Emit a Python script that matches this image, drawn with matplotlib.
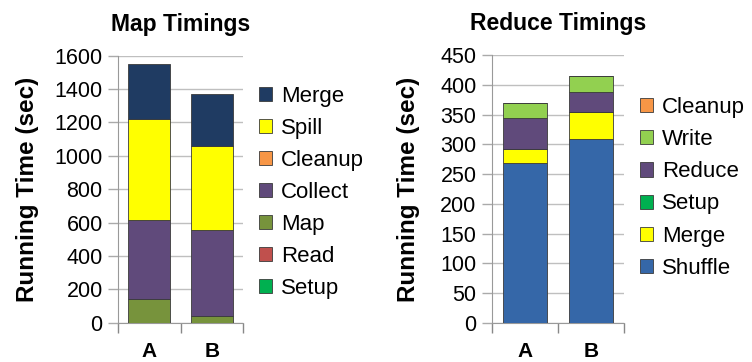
import matplotlib
matplotlib.use("Agg")
import matplotlib.pyplot as plt
import numpy as np

plt.rcParams['font.family'] = ['Liberation Sans', 'DejaVu Sans']

categories = ["A", "B"]

# Map timings (stack order bottom -> top)
map_phases = ["Setup", "Read", "Map", "Collect", "Cleanup", "Spill", "Merge"]
map_setup = [0, 0]
map_read = [0, 0]
map_map = [140, 42]
map_collect = [475, 513]
map_cleanup = [0, 0]
map_spill = [605, 502]
map_merge = [330, 311]
map_values = [map_setup, map_read, map_map, map_collect, map_cleanup, map_spill, map_merge]
map_colors = ["#00B050", "#C0504D", "#77933C", "#604A7B", "#F79646", "#FFFF00", "#1F3B62"]

# Reduce timings (stack order bottom -> top)
red_phases = ["Shuffle", "Merge", "Setup", "Reduce", "Write", "Cleanup"]
red_shuffle = [268, 309]
red_merge = [24, 45]
red_setup = [0, 0]
red_reduce = [53, 34]
red_write = [25, 27]
red_cleanup = [0, 0]
red_values = [red_shuffle, red_merge, red_setup, red_reduce, red_write, red_cleanup]
red_colors = ["#3567A8", "#FFFF00", "#00B050", "#604A7B", "#92D050", "#F79646"]

W, H = 752, 362
fig = plt.figure(figsize=(W / 100, H / 100), dpi=100)

def make_ax(x0, x1, y0, y1):
    return fig.add_axes([x0 / W, (H - y1) / H, (x1 - x0) / W, (y1 - y0) / H])

ax1 = make_ax(118, 243, 55.7, 322.7)
ax2 = make_ax(491.7, 624, 55.3, 322.7)

def draw(ax, phases, values, colors, ymax, ystep, title, legend_y, label_x):
    x = np.arange(len(categories))
    bottom = np.zeros(len(categories))
    handles = []
    for name, vals, col in zip(phases, values, colors):
        v = np.array(vals, dtype=float)
        b = ax.bar(x, v, bottom=bottom, width=0.67, color=col, edgecolor="#3a3a3a",
                   linewidth=0.6, label=name, zorder=3)
        handles.append(b)
        bottom += v
    ax.set_xlim(-0.5, len(categories) - 0.5)
    ax.set_ylim(0, ymax)
    ax.set_yticks(np.arange(0, ymax + 1, ystep))
    ax.set_xticks(x)
    ax.set_xticklabels(categories, fontsize=15, fontweight='bold')
    ax.set_xticks([-0.5, 0.5, 1.5], minor=True)
    ax.tick_params(axis='x', which='major', length=0, pad=14)
    ax.tick_params(axis='x', which='minor', length=7, color='#888888', width=1)
    ax.tick_params(axis='y', labelsize=15.5, length=7, color='#aaaaaa', width=1, pad=4)
    ax.grid(axis='y', color='#bfbfbf', linewidth=1, zorder=0)
    ax.set_axisbelow(True)
    for s in ['top', 'right']:
        ax.spines[s].set_visible(False)
    ax.spines['left'].set_color('#999999')
    ax.spines['bottom'].set_color('#999999')
    ax.set_ylabel("Running Time (sec)", fontsize=17.5, fontweight='bold')
    ax.yaxis.set_label_coords(label_x, 0.5)
    ax.set_title(title, fontsize=16.5, fontweight='bold', pad=18)
    leg = ax.legend(handles[::-1], phases[::-1], loc='center left',
                    bbox_to_anchor=(1.0, legend_y), frameon=False, fontsize=16,
                    handlelength=0.6, handleheight=0.6, handletextpad=0.4,
                    labelspacing=0.5, borderaxespad=0.3)
    return leg

draw(ax1, map_phases, map_values, map_colors, 1600, 200, "Map Timings", 0.488, -0.63)
draw(ax2, red_phases, red_values, red_colors, 450, 50, "Reduce Timings", 0.504, -0.54)

fig.savefig("out.png", dpi=100)
